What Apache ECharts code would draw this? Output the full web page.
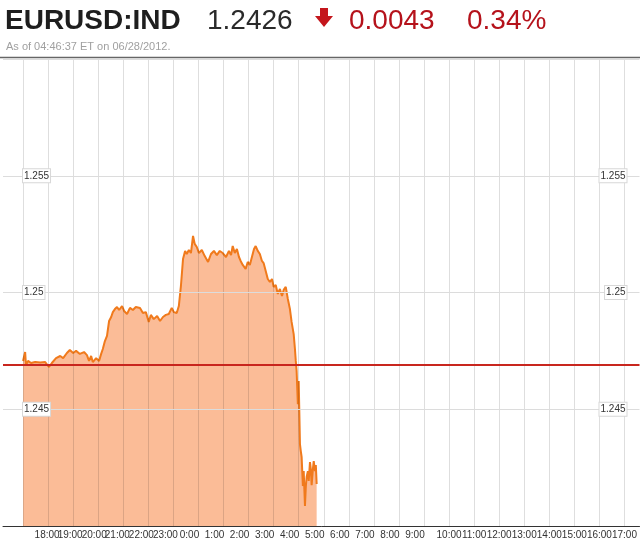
<!DOCTYPE html>
<html>
<head>
<meta charset="utf-8">
<script src="https://cdn.jsdelivr.net/npm/echarts@6/dist/echarts.min.js"></script>
<style>html,body{margin:0;padding:0;background:#fff;}#c{width:640px;height:542px;}</style>
</head>
<body>
<div id="c"></div>
<script>
const times = ["17:00","17:05","17:07","17:12","17:19","17:29","17:41","17:53","18:02","18:09","18:19","18:29","18:36","18:45","18:52","19:00","19:07","19:16","19:26","19:33","19:38","19:43","19:47","19:55","20:02","20:07","20:11","20:16","20:21","20:26","20:31","20:35","20:40","20:45","20:50","20:57","21:02","21:09","21:16","21:23","21:30","21:40","21:47","21:54","22:01","22:06","22:13","22:21","22:28","22:35","22:42","22:49","22:56","23:01","23:08","23:13","23:18","23:23","23:28","23:32","23:37","23:42","23:47","23:51","23:56","0:01","0:08","0:15","0:23","0:30","0:37","0:44","0:51","0:58","1:06","1:13","1:18","1:22","1:27","1:32","1:37","1:41","1:46","1:53","1:58","2:03","2:08","2:13","2:17","2:22","2:27","2:32","2:36","2:41","2:46","2:51","2:56","3:00","3:05","3:10","3:15","3:20","3:24","3:29","3:34","3:39","3:43","3:48","3:51","3:53","3:55","3:58","4:00","4:03","4:05","4:07","4:10","4:12","4:15","4:17","4:19","4:22","4:24","4:27","4:29","4:31","4:34","4:36","4:39","4:41","4:43"];
const prices = [1.24707,1.24745,1.24689,1.24707,1.24698,1.24702,1.2470,1.24702,1.24681,1.24698,1.24719,1.24728,1.24719,1.24741,1.24754,1.24741,1.2475,1.24737,1.24745,1.24732,1.24707,1.24728,1.24702,1.24719,1.24707,1.24737,1.24758,1.24792,1.24814,1.24878,1.24895,1.24916,1.24929,1.24938,1.24925,1.24942,1.24921,1.24908,1.24934,1.24925,1.24938,1.24934,1.24912,1.24916,1.24874,1.24904,1.24886,1.24899,1.24878,1.24895,1.24904,1.24908,1.24934,1.24916,1.24912,1.24942,1.25028,1.25143,1.25178,1.25165,1.25182,1.25169,1.25242,1.25208,1.25195,1.25169,1.25182,1.25156,1.25131,1.25165,1.25178,1.2516,1.25178,1.25169,1.25152,1.25178,1.2516,1.25199,1.25169,1.25186,1.25152,1.25135,1.25118,1.25101,1.25131,1.25118,1.25152,1.25186,1.25199,1.25178,1.25165,1.25135,1.25126,1.25092,1.25058,1.25045,1.25058,1.25024,1.25032,1.24994,1.25015,1.24985,1.25011,1.25024,1.24972,1.24929,1.24874,1.24822,1.24758,1.24707,1.24664,1.24522,1.24621,1.24351,1.24321,1.24296,1.24171,1.24235,1.24086,1.24167,1.2421,1.24235,1.24193,1.24274,1.24244,1.24175,1.24244,1.24278,1.24235,1.24261,1.2418];
const prevClose = 1.2469;
const hourLabels = ["18:00","19:00","20:00","21:00","22:00","23:00","0:00","1:00","2:00","3:00","4:00","5:00","6:00","7:00","8:00","9:00","10:00","11:00","12:00","13:00","14:00","15:00","16:00","17:00"];
const header = {symbol: "EURUSD:IND", last: "1.2426", change: "0.0043", pct: "0.34%", asOf: "As of 04:46:37 ET on 06/28/2012."};

function toHours(t) {
  const [hh, mm] = t.split(":").map(Number);
  const h = hh >= 17 ? hh - 17 : hh + 7;
  return h + mm / 60;
}
const seriesData = times.map((t, i) => [toHours(t), prices[i]]);
const hourTicks = hourLabels.map((s, i) => i + 1);          // 18:00 .. 17:00 (next day)
const gridHours = [0].concat(hourTicks);                     // 17:00 .. 17:00
// empty guard labels at both ends so ECharts' min/max overlap check never drops a real label
const labelValues = [0].concat(hourTicks, [24.5]);

const chart = echarts.init(document.getElementById('c'), null, {renderer: 'canvas'});
const font = 'Liberation Sans, Arial, sans-serif';
const yLabel = {
  inside: true,
  fontSize: 10,
  fontFamily: font,
  color: '#333',
  backgroundColor: '#fff',
  borderColor: '#d8d8d8',
  borderWidth: 1,
  padding: [2, 1, 1, 1],
  showMinLabel: false,
  showMaxLabel: false,
  formatter: v => String(+v.toFixed(3))
};
// label rich styles: shift labels left by k px (right padding 2k)
const rich = {};
for (let k = 0; k <= 10; k++) rich['p' + k] = {fontSize: 10, fontFamily: font, color: '#333', padding: [0, 2 * k, 0, 0]};

chart.setOption({
  animation: false,
  graphic: [
    {type: 'text', left: 5, top: 7, style: {text: header.symbol, font: 'bold 28px ' + font, fill: '#1e1e1e'}},
    {type: 'text', left: 207, top: 7, style: {text: header.last, font: '28px ' + font, fill: '#2a2a2a'}},
    {type: 'polygon', shape: {points: [[320,8],[328,8],[328,16],[333,16],[324,27],[315,16],[320,16]]}, style: {fill: '#c4161c'}},
    {type: 'text', left: 349, top: 7, style: {text: header.change, font: '28px ' + font, fill: '#b5121b'}},
    {type: 'text', left: 467, top: 7, style: {text: header.pct, font: '28px ' + font, fill: '#b5121b'}},
    {type: 'text', left: 6, top: 41, style: {text: header.asOf, font: '11px ' + font, fill: '#a0a0a0'}},
    {type: 'line', shape: {x1: 0, y1: 57.5, x2: 640, y2: 57.5}, style: {stroke: '#666', lineWidth: 1.5}, z: 100}
  ],
  grid: {left: 3, right: 0, top: 59, bottom: 16, containLabel: false},
  xAxis: {
    type: 'value', min: -0.8, max: 24.6, z: 11,
    axisLine: {show: true, onZero: false, lineStyle: {color: '#333', width: 1}},
    axisTick: {show: false},
    splitLine: {show: false},
    axisLabel: {
      customValues: labelValues,
      hideOverlap: false,
      margin: 4, fontSize: 10, fontFamily: font, color: '#333',
      formatter: v => {
        const i = Math.round(v) - 1;
        if (i < 0 || i >= hourLabels.length || v !== Math.round(v)) return '';
        const s = hourLabels[i];
        let k = 0;
        if (i < 6) k = Math.round((i + 1) * 1.4);
        else if (s.length < 5) k = 9;
        return '{p' + k + '|' + s + '}';
      },
      rich: rich
    }
  },
  yAxis: [
    {type: 'value', position: 'left', min: 1.24, max: 1.26, interval: 0.005, z: 10,
     axisLine: {show: false}, axisTick: {show: false},
     splitLine: {show: true, lineStyle: {color: '#dcdcdc', width: 1}},
     axisLabel: Object.assign({}, yLabel, {margin: 20})},
    {type: 'value', position: 'right', min: 1.24, max: 1.26, interval: 0.005, z: 10,
     axisLine: {show: false}, axisTick: {show: false},
     splitLine: {show: false},
     axisLabel: Object.assign({}, yLabel, {margin: 13})}
  ],
  series: [{
    type: 'line',
    data: seriesData,
    showSymbol: false,
    symbol: 'none',
    sampling: null,
    z: 2,
    lineStyle: {color: '#f07a1c', width: 2},
    areaStyle: {color: '#f88c4c', opacity: 0.58, origin: 'start'},
    markLine: {
      silent: true, symbol: ['none', 'none'], animation: false, precision: 6,
      label: {show: false},
      lineStyle: {color: 'rgba(0,0,0,0.13)', width: 1, type: 'solid'},
      data: gridHours.map(h => ({xAxis: h}))
    }
  }, {
    type: 'line',
    data: [],
    z: 3,
    markLine: {
      silent: true, symbol: ['none', 'none'], animation: false, precision: 6,
      label: {show: false},
      lineStyle: {color: '#c8261e', width: 2, type: 'solid'},
      data: [{yAxis: prevClose}]
    }
  }]
});
</script>
</body>
</html>
